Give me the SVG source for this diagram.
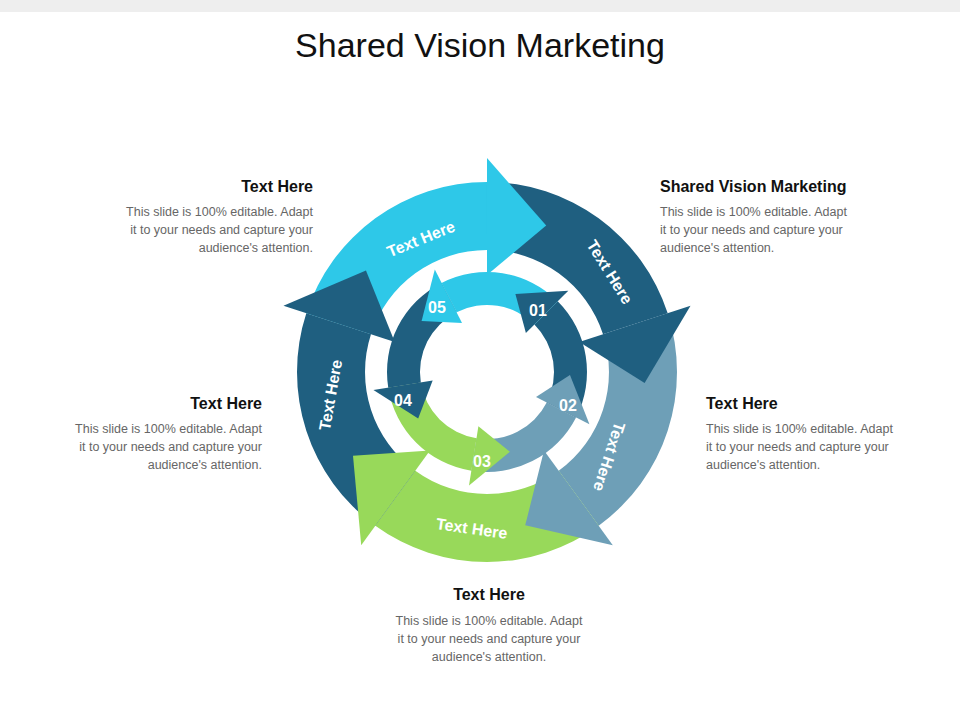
<svg xmlns="http://www.w3.org/2000/svg" width="960" height="720" viewBox="0 0 960 720">
<style>
.h{font-family:"Liberation Sans",Arial,sans-serif;font-weight:bold;font-size:16px;fill:#111}
.b{font-family:"Liberation Sans",Arial,sans-serif;font-size:12.5px;fill:#666}
.l{font-family:"Liberation Sans",Arial,sans-serif;font-weight:bold;font-size:16px;fill:#fff}
.n{font-family:"Liberation Sans",Arial,sans-serif;font-weight:bold;font-size:16px;fill:#fff}
.c1{fill:#2ec8e8}.c2{fill:#1f5f80}.c3{fill:#6e9fb7}.c4{fill:#98d95a}
</style>
<rect x="0" y="0" width="960" height="12" fill="#eeeeee"/>
<rect x="0" y="12" width="960" height="708" fill="#fff"/>
<text x="480" y="57" text-anchor="middle" font-family="Liberation Sans,Arial,sans-serif" font-size="34" fill="#111">Shared Vision Marketing</text>
<g id="connectors">
<!-- outer bodies: r122-190, from theta-72 to theta; cx 487 cy 372 -->
<g transform="translate(487,372)">
<defs>
<path id="ob" d="M-180.7,-58.7 A190,190 0 0 1 0,-190 L0,-122 A122,122 0 0 0 -116,-37.7 Z"/>
<path id="oh" d="M0,-97 L0,-214 L59.2,-146.5 Z"/>
<path id="ib" d="M70.7,-70.7 A100,100 0 0 1 89.1,45.4 L59.7,30.4 A67,67 0 0 0 47.4,-47.4 Z"/>
<path id="ih" d="M38.9,-38.9 L81.3,-81.3 L28.4,-78.0 Z"/>
</defs>
<use href="#ob" class="c1"/>
<use href="#ob" class="c2" transform="rotate(72)"/>
<use href="#ob" class="c3" transform="rotate(144)"/>
<use href="#ob" class="c4" transform="rotate(216)"/>
<use href="#ob" class="c2" transform="rotate(288)"/>
<use href="#oh" class="c2" transform="rotate(72)"/>
<use href="#oh" class="c3" transform="rotate(144)"/>
<use href="#oh" class="c4" transform="rotate(216)"/>
<use href="#oh" class="c2" transform="rotate(288)"/>
<use href="#oh" class="c1"/>
<use href="#ib" class="c2"/>
<use href="#ib" class="c3" transform="rotate(72)"/>
<use href="#ib" class="c4" transform="rotate(144)"/>
<use href="#ib" class="c2" transform="rotate(216)"/>
<use href="#ib" class="c1" transform="rotate(288)"/>
<use href="#ih" class="c2"/>
<use href="#ih" class="c3" transform="rotate(72)"/>
<use href="#ih" class="c4" transform="rotate(144)"/>
<use href="#ih" class="c2" transform="rotate(216)"/>
<use href="#ih" class="c1" transform="rotate(288)"/>
</g>
</g>
<g id="labels">
<text class="l" transform="translate(423,244) rotate(-22)" text-anchor="middle">Text Here</text>
<text class="l" transform="translate(605,275) rotate(58)" text-anchor="middle">Text Here</text>
<text class="l" transform="translate(604,455) rotate(108)" text-anchor="middle">Text Here</text>
<text class="l" transform="translate(471,534) rotate(8)" text-anchor="middle">Text Here</text>
<text class="l" transform="translate(336,396) rotate(-80)" text-anchor="middle">Text Here</text>
<text class="n" x="538" y="316" text-anchor="middle">01</text>
<text class="n" x="568" y="411" text-anchor="middle">02</text>
<text class="n" x="482" y="467" text-anchor="middle">03</text>
<text class="n" x="403" y="406" text-anchor="middle">04</text>
<text class="n" x="437" y="313" text-anchor="middle">05</text>
</g>
<g id="t1" text-anchor="end">
<text class="h" x="313" y="192">Text Here</text>
<text class="b" x="313" y="216">This slide is 100% editable. Adapt</text>
<text class="b" x="313" y="234">it to your needs and capture your</text>
<text class="b" x="313" y="252">audience's attention.</text>
</g>
<g id="t2">
<text class="h" x="660" y="192">Shared Vision Marketing</text>
<text class="b" x="660" y="216">This slide is 100% editable. Adapt</text>
<text class="b" x="660" y="234">it to your needs and capture your</text>
<text class="b" x="660" y="252">audience's attention.</text>
</g>
<g id="t3">
<text class="h" x="706" y="409">Text Here</text>
<text class="b" x="706" y="433">This slide is 100% editable. Adapt</text>
<text class="b" x="706" y="451">it to your needs and capture your</text>
<text class="b" x="706" y="469">audience's attention.</text>
</g>
<g id="t4" text-anchor="end">
<text class="h" x="262" y="409">Text Here</text>
<text class="b" x="262" y="433">This slide is 100% editable. Adapt</text>
<text class="b" x="262" y="451">it to your needs and capture your</text>
<text class="b" x="262" y="469">audience's attention.</text>
</g>
<g id="t5" text-anchor="middle">
<text class="h" x="489" y="600">Text Here</text>
<text class="b" x="489" y="625">This slide is 100% editable. Adapt</text>
<text class="b" x="489" y="643">it to your needs and capture your</text>
<text class="b" x="489" y="661">audience's attention.</text>
</g>
</svg>
